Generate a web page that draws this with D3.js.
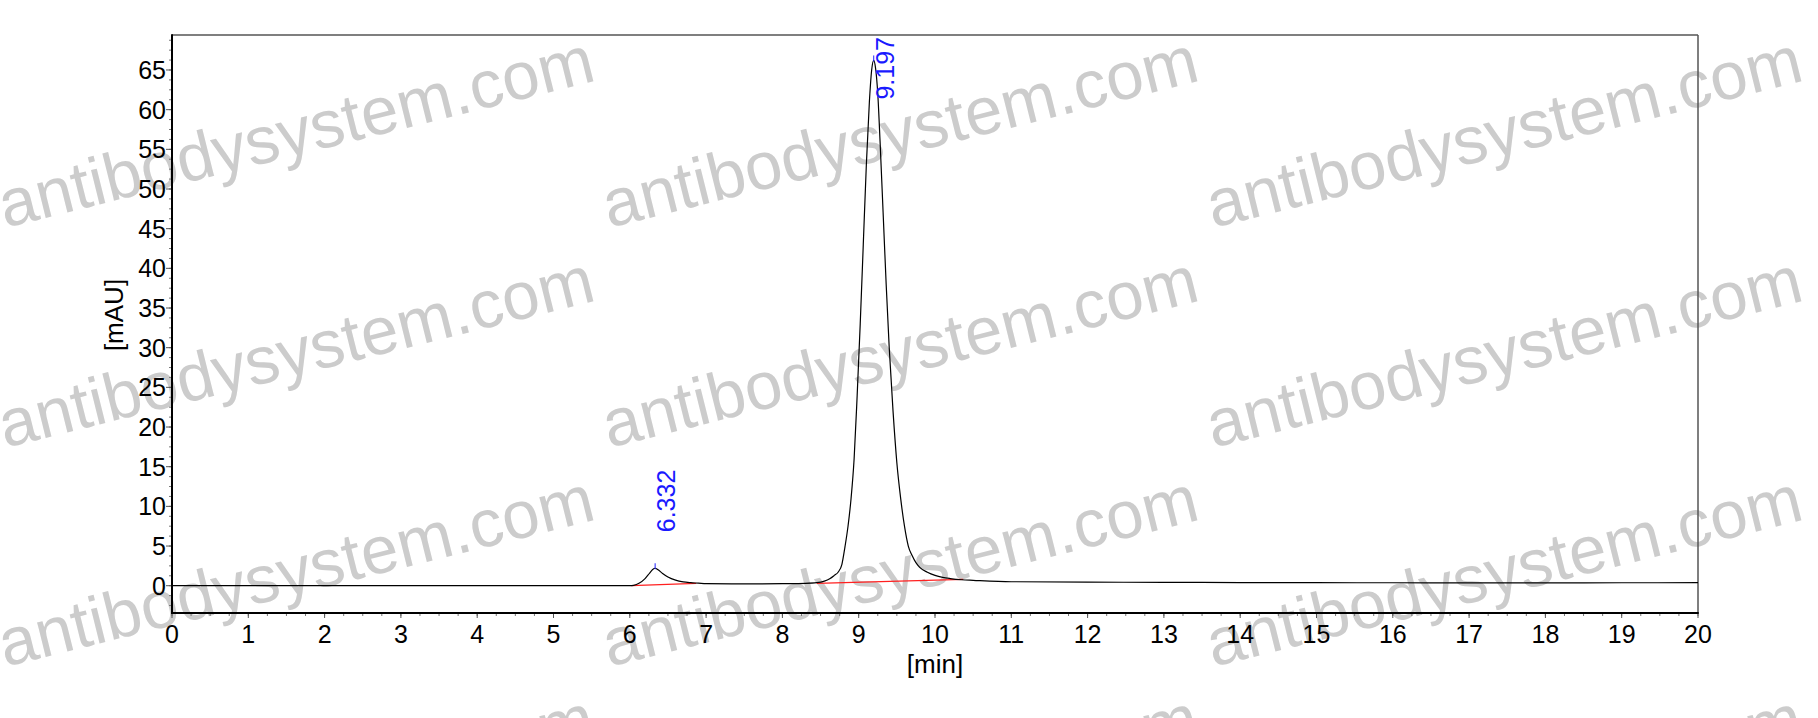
<!DOCTYPE html>
<html><head><meta charset="utf-8">
<script src="https://cdn.jsdelivr.net/npm/d3@7/dist/d3.min.js"></script>
<style>html,body{margin:0;padding:0;background:#fff;}svg{display:block;}</style>
</head><body>
<svg id="c" width="1818" height="718"></svg>
<script>
// ---- data ----
const timeMin = [0, 3, 6.0, 6.05, 6.12, 6.2, 6.26, 6.3, 6.332, 6.37, 6.43, 6.5, 6.6, 6.7, 6.8, 6.9, 7.0, 7.5, 8.0, 8.3, 8.45, 8.55, 8.62, 8.68, 8.73, 8.78, 8.82, 8.86, 8.9, 8.94, 8.98, 9.02, 9.06, 9.1, 9.14, 9.17, 9.197, 9.22, 9.25, 9.28, 9.32, 9.36, 9.40, 9.45, 9.50, 9.55, 9.6, 9.65, 9.7, 9.75, 9.8, 9.9, 10.0, 10.1, 10.2, 10.35, 10.5, 11, 12, 13, 14, 15, 16, 17, 18, 19, 20];
const signalMAU = [0, 0, 0.0, 0.05, 0.3, 0.9, 1.6, 2.05, 2.2, 2.0, 1.55, 1.1, 0.7, 0.48, 0.38, 0.32, 0.25, 0.22, 0.26, 0.3, 0.38, 0.58, 0.88, 1.3, 1.7, 2.7, 4.9, 7.5, 11, 16, 24, 33, 43, 53, 61, 65, 66.2, 65.3, 62, 56, 47, 38, 30, 22, 15.5, 11, 7.5, 5.0, 3.8, 2.9, 2.3, 1.7, 1.3, 1.05, 0.9, 0.75, 0.68, 0.5, 0.45, 0.42, 0.4, 0.38, 0.37, 0.36, 0.36, 0.37, 0.38];
const peakTimes = [6.332, 9.197];
const peakHeights = [2.2, 66.2];
const peakLabels = ["6.332", "9.197"];
const baselineStartT = [6.02, 8.45];
const baselineEndT = [6.87, 10.37];
const baselineStartV = [0.0, 0.3];
const baselineEndV = [0.3, 0.8];
const xTicks = d3.range(0, 21, 1);
const yTicks = d3.range(0, 66, 5);
const watermarkText = "antibodysystem.com";
const xTitle = "[min]";
const yTitle = "[mAU]";

// ---- layout ----
const L = 172, R = 1698, T = 35, B = 613;
const svg = d3.select("#c");
const FONT = "'Liberation Sans', Arial, sans-serif";

const x = d3.scaleLinear().domain([0, 20]).range([L, R]);
const y = d3.scaleLinear().domain([-3.44, 69.41]).range([B, T]);

// watermarks (behind everything)
const wmG = svg.append("g");
const wmX = [5, 609, 1213], wmY = [228, 448, 667, 886];
wmY.forEach(yy => wmX.forEach(xx => {
  wmG.append("text").attr("transform", `translate(${xx},${yy}) rotate(-14)`)
    .attr("font-family", FONT).attr("font-size", 67).attr("fill", "#cccccc")
    .text(watermarkText);
}));

// ticks
const yMinor = d3.range(-2.5, 69.4, 1.25);
const xMinor = d3.range(0, 20.001, 0.25);
const axG = svg.append("g");
axG.selectAll(".ymn").data(yMinor).join("line")
  .attr("x1", L - 3).attr("x2", L).attr("y1", d => y(d)).attr("y2", d => y(d))
  .attr("stroke", "#777").attr("stroke-width", 1);
axG.selectAll(".ymj").data(yTicks).join("line")
  .attr("x1", L - 6).attr("x2", L).attr("y1", d => y(d)).attr("y2", d => y(d))
  .attr("stroke", "#555").attr("stroke-width", 1);
axG.selectAll(".xmn").data(xMinor).join("line")
  .attr("x1", d => x(d)).attr("x2", d => x(d)).attr("y1", B).attr("y2", B + 3)
  .attr("stroke", "#777").attr("stroke-width", 1);
axG.selectAll(".xmj").data(xTicks).join("line")
  .attr("x1", d => x(d)).attr("x2", d => x(d)).attr("y1", B).attr("y2", B + 5)
  .attr("stroke", "#555").attr("stroke-width", 1);

axG.selectAll(".yl").data(yTicks).join("text")
  .attr("x", L - 6).attr("y", d => y(d)).attr("dy", "0.36em")
  .attr("text-anchor", "end").attr("font-family", FONT).attr("font-size", 25)
  .attr("fill", "#000").text(d => d);
axG.selectAll(".xl").data(xTicks).join("text")
  .attr("x", d => x(d)).attr("y", 643)
  .attr("text-anchor", "middle").attr("font-family", FONT).attr("font-size", 25)
  .attr("fill", "#000").text(d => d);

svg.append("text").attr("x", (L + R) / 2).attr("y", 673).attr("text-anchor", "middle")
  .attr("font-family", FONT).attr("font-size", 26).text(xTitle);
svg.append("text").attr("transform", `translate(123,315) rotate(-90)`).attr("text-anchor", "middle")
  .attr("font-family", FONT).attr("font-size", 26).text(yTitle);

// frame
svg.append("line").attr("x1", L).attr("x2", R).attr("y1", T).attr("y2", T).attr("stroke", "#555").attr("stroke-width", 1.5);
svg.append("line").attr("x1", R).attr("x2", R).attr("y1", T).attr("y2", B).attr("stroke", "#555").attr("stroke-width", 1.5);
svg.append("line").attr("x1", L).attr("x2", L).attr("y1", T - 0.75).attr("y2", B + 1).attr("stroke", "#000").attr("stroke-width", 2);
svg.append("line").attr("x1", L - 1).attr("x2", R + 0.75).attr("y1", B).attr("y2", B).attr("stroke", "#000").attr("stroke-width", 2);

// baselines (red)
baselineStartT.forEach((t0, i) => {
  svg.append("line").attr("x1", x(t0)).attr("y1", y(baselineStartV[i]))
    .attr("x2", x(baselineEndT[i])).attr("y2", y(baselineEndV[i]))
    .attr("stroke", "#ff2020").attr("stroke-width", 1.3);
});

// signal
const pts = timeMin.map((t, i) => [t, signalMAU[i]]);
svg.append("path").datum(pts)
  .attr("d", d3.line().x(d => x(d[0])).y(d => y(d[1])).curve(d3.curveMonotoneX))
  .attr("fill", "none").attr("stroke", "#000").attr("stroke-width", 1.2);

// peak markers and labels (rotated -90, reading upwards; kept inside the frame)
peakTimes.forEach((t, i) => {
  svg.append("line").attr("x1", x(t)).attr("x2", x(t))
    .attr("y1", y(peakHeights[i]) + 1).attr("y2", y(peakHeights[i]) - 5)
    .attr("stroke", "#2020ff").attr("stroke-width", 1);
  const lbl = svg.append("text")
    .attr("font-family", FONT).attr("font-size", 25).attr("fill", "#1a1aff").text(peakLabels[i]);
  const len = lbl.node().getComputedTextLength();
  const bottom = Math.max(y(peakHeights[i]) - 36, T + 2 + len);
  lbl.attr("transform", `translate(${x(t) + 20},${bottom}) rotate(-90)`);
});
</script>
</body></html>
